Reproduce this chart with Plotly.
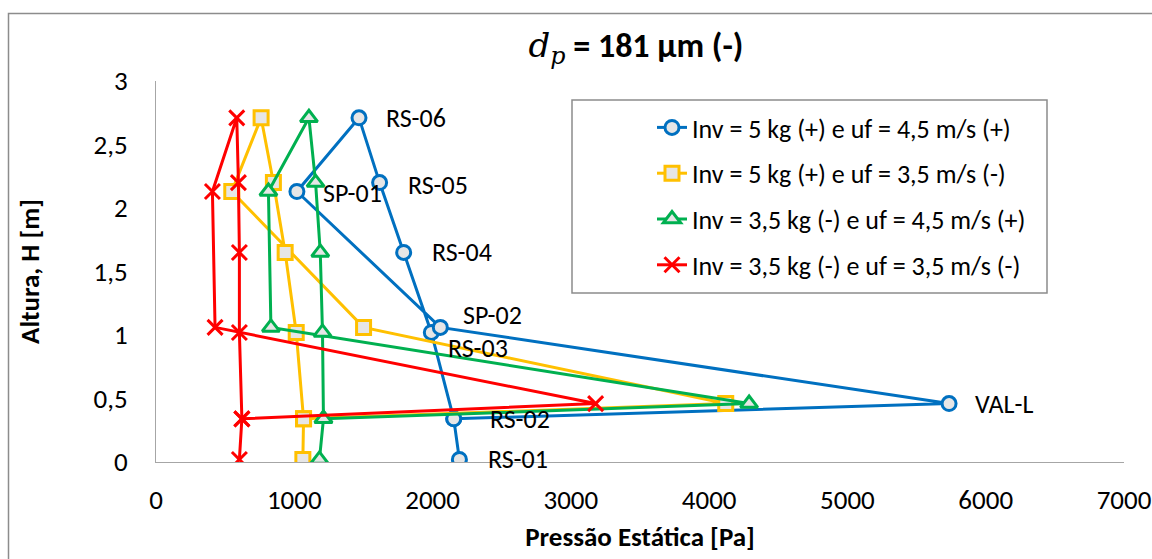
import plotly.graph_objects as go

# Measuring points along the loop (last point returns to RS-02)
points = ["RS-01", "RS-02", "RS-03", "RS-04", "RS-05", "RS-06", "SP-01", "SP-02", "VAL-L", "RS-02"]
heights = [0.02, 0.34, 1.02, 1.65, 2.20, 2.71, 2.13, 1.06, 0.46, 0.34]

p_inv5_uf45 = [2194, 2153, 1991, 1791, 1617, 1468, 1019, 2056, 5735, 2153]
p_inv5_uf35 = [1062, 1067, 1014, 934, 849, 760, 548, 1501, 4120, 1067]
p_inv35_uf45 = [1182, 1211, 1204, 1188, 1154, 1106, 813, 831, 4289, 1211]
p_inv35_uf35 = [603, 621, 603, 603, 596, 584, 408, 427, 3179, 621]

series_names = [
    "Inv = 5 kg (+) e uf = 4,5 m/s (+)",
    "Inv = 5 kg (+) e uf = 3,5 m/s (-)",
    "Inv = 3,5 kg (-) e uf = 4,5 m/s (+)",
    "Inv = 3,5 kg (-) e uf = 3,5 m/s (-)",
]

x_ticks = [0, 1000, 2000, 3000, 4000, 5000, 6000, 7000]
y_ticks = [0, 0.5, 1, 1.5, 2, 2.5, 3]

# label offsets (px) for the blue series point names
label_points = ["RS-01", "RS-02", "RS-03", "RS-04", "RS-05", "RS-06", "SP-01", "SP-02", "VAL-L"]
label_dx = [27, 34, 15, 26, 26, 25, 24, 21, 24]
label_dy = [0, 0, -16, 0, -2, 0, -2, 12, 0]

FONT = "Carlito, Calibri, Lato, sans-serif"
GRAY_FILL = "#E6E6E6"

styles = [
    dict(color="#0070C0", symbol="circle", size=14, fill=GRAY_FILL),
    dict(color="#FFC000", symbol="square", size=14, fill=GRAY_FILL),
    dict(color="#00B050", symbol="triangle-up", size=15, fill=GRAY_FILL),
    dict(color="#FF0000", symbol="x-thin", size=15, fill="#FF0000"),
]

fig = go.Figure()
for i, (name, xs) in enumerate(zip(series_names, [p_inv5_uf45, p_inv5_uf35, p_inv35_uf45, p_inv35_uf35])):
    st = styles[i]
    fig.add_trace(go.Scatter(
        x=xs, y=heights, mode="lines+markers", name=name,
        legendgroup=f"g{i}",
        line=dict(color=st["color"], width=3),
        marker=dict(symbol=st["symbol"], size=st["size"], color=st["fill"],
                    line=dict(color=st["color"], width=3)),
        hoverinfo="skip",
    ))

# point labels attached to the first series
for name, dx, dy in zip(label_points, label_dx, label_dy):
    idx = points.index(name)
    fig.add_annotation(
        x=p_inv5_uf45[idx], y=heights[idx], text=name, showarrow=False,
        xanchor="left", yanchor="middle", xshift=dx, yshift=dy,
        font=dict(family=FONT, size=26, color="#000000"),
    )

L, R, T, B = 156, 28, 81, 97
W, H = 1152, 559
pw, ph = W - L - R, H - T - B

def px_x(px):
    return (px - L) / pw

def px_y(py):
    return (H - B - py) / ph

# outer chart border and legend box
fig.add_shape(type="rect", xref="paper", yref="paper",
              x0=px_x(8.5), x1=px_x(1170), y0=px_y(580), y1=px_y(13.5),
              line=dict(color="#8C8C8C", width=1.5), fillcolor="rgba(0,0,0,0)", layer="below")
fig.add_shape(type="rect", xref="paper", yref="paper",
              x0=px_x(572), x1=px_x(1047), y0=px_y(293), y1=px_y(100),
              line=dict(color="#8C8C8C", width=1.5), fillcolor="white", layer="below")

fig.update_layout(
    width=W, height=H,
    margin=dict(l=L, r=R, t=T, b=B, autoexpand=False),
    paper_bgcolor="white", plot_bgcolor="white",
    separators=",.",
    font=dict(family=FONT, size=26, color="#000000"),
    title=dict(
        text="<span style='font-family:DejaVu Serif'><i>d</i><sub><i>p</i></sub></span><b> = 181 μm (-)</b>",
        x=px_x(636), xanchor="center", xref="paper",
        y=1 - 45 / H, yanchor="middle",
        font=dict(family=FONT, size=34, color="#000000"),
    ),
    legend=dict(
        x=px_x(652), y=px_y(104), xanchor="left", yanchor="top",
        bgcolor="rgba(0,0,0,0)", borderwidth=0,
        font=dict(family=FONT, size=26, color="#000000"),
        tracegroupgap=9,
    ),
    showlegend=True,
)
fig.update_xaxes(
    range=[0, 7000], tickvals=x_ticks, showgrid=False, zeroline=False,
    showline=True, linecolor="#A6A6A6", linewidth=1, automargin=False,
    ticks="outside", ticklen=14, tickcolor="rgba(0,0,0,0)",
    tickfont=dict(family=FONT, size=27, color="#000000"),
    title=dict(text="<b>Pressão Estática [Pa]</b>", standoff=11,
               font=dict(family=FONT, size=27, color="#000000")),
)
fig.update_yaxes(
    range=[0, 3], tickvals=y_ticks, showgrid=False, zeroline=False,
    showline=True, linecolor="#A6A6A6", linewidth=1, automargin=False,
    ticks="outside", ticklen=22, tickcolor="rgba(0,0,0,0)",
    tickfont=dict(family=FONT, size=27, color="#000000"),
    title=dict(text="<b>Altura, H [m]</b>", standoff=46,
               font=dict(family=FONT, size=27, color="#000000")),
)

fig.write_html("out.html")
